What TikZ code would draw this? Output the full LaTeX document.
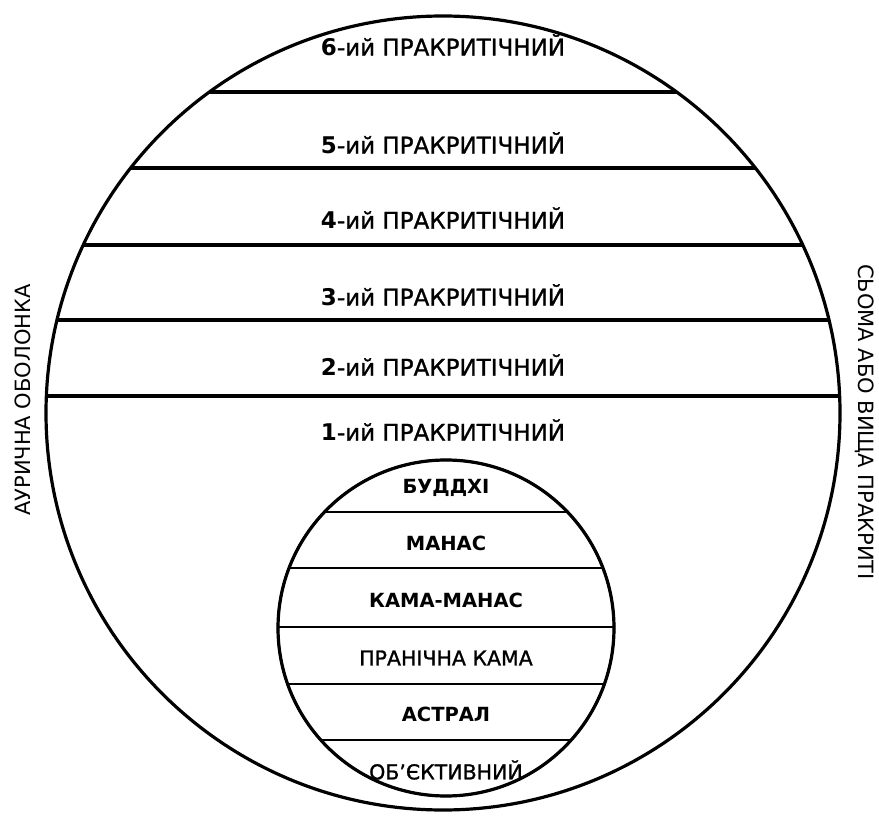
\documentclass[tikz,border=0pt]{standalone}
\usepackage{fontspec}
\setmainfont{DejaVu Sans}
\newfontfamily\heavyfont{DejaVu Sans}[FakeBold=1.2, Ligatures=TeX]
\usetikzlibrary{positioning}

\begin{document}
\begin{tikzpicture}[x=1pt, y=-1pt,
    plane/.style={font=\fontsize{23}{26}\heavyfont},
    subplane/.style={font=\fontsize{19.5}{22}\selectfont\bfseries},
    subplanelight/.style={font=\fontsize{20.5}{23}\heavyfont},
    sidelabel/.style={font=\fontsize{21}{24}\selectfont},
    bigline/.style={line width=3.2pt},
    smallline/.style={line width=2.2pt}]
    \useasboundingbox (0,0) rectangle (879,821);
    \coordinate (aura) at (443,413);
    \coordinate (body) at (446,628);
    % bands of the outer circle
    \begin{scope}
        \clip (aura) circle (397);
        \foreach \y in {92,168,245,320,396}
            \draw[bigline] (0,\y) -- (879,\y);
    \end{scope}
    \draw[bigline, fill=white] (body) circle (168);
    % bands of the inner circle
    \begin{scope}
        \clip (body) circle (168);
        \foreach \y in {512,568,627,684,740}
            \draw[smallline] (0,\y) -- (879,\y);
    \end{scope}
    \draw[smallline] (body) circle (168);
    \draw[bigline] (aura) circle (397);
    \node[plane] (p6) at (443,45) {{\rmfamily\bfseries 6}-ий ПРАКРИТІЧНИЙ};
    \node[plane] (p5) at (443,143) {{\rmfamily\bfseries 5}-ий ПРАКРИТІЧНИЙ};
    \node[plane] (p4) at (443,218) {{\rmfamily\bfseries 4}-ий ПРАКРИТІЧНИЙ};
    \node[plane] (p3) at (443,295) {{\rmfamily\bfseries 3}-ий ПРАКРИТІЧНИЙ};
    \node[plane] (p2) at (443,365) {{\rmfamily\bfseries 2}-ий ПРАКРИТІЧНИЙ};
    \node[plane] (p1) at (443,430) {{\rmfamily\bfseries 1}-ий ПРАКРИТІЧНИЙ};
    \node[subplane] (buddhi) at (446,488) {БУДДХІ};
    \node[subplane] (manas) at (446,543) {МАНАС};
    \node[subplane] (kamamanas) at (446,600) {КАМА-МАНАС};
    \node[subplanelight] (prana) at (446,658) {ПРАНІЧНА КАМА};
    \node[subplane] (astral) at (446,714) {АСТРАЛ};
    \node[subplanelight] (object) at (446,770) {ОБ’ЄКТИВНИЙ};
    \node[sidelabel, rotate=90] (auric) at (23,400) {АУРИЧНА ОБОЛОНКА};
    \node[sidelabel, rotate=-90] (soma) at (865,422) {СЬОМА АБО ВИЩА ПРАКРИТІ};
\end{tikzpicture}
\end{document}
